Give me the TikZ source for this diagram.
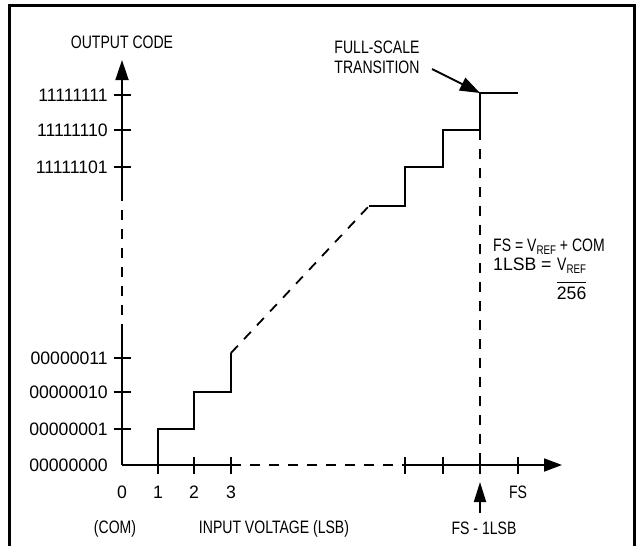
\documentclass[tikz,border=0pt]{standalone}
\usepackage{fontspec}
\setmainfont[FakeStretch=0.78]{Liberation Sans}
\newfontfamily\digfont[FakeStretch=0.98]{Liberation Sans}
\usetikzlibrary{arrows.meta}
\newcommand{\mysub}[1]{\raisebox{-3pt}{\fontsize{12.5}{13}\selectfont #1}}
\begin{document}
\begin{tikzpicture}[x=1pt,y=-1pt,
  lbl/.style={inner sep=0pt,text height=12.9pt,text depth=0pt,font=\fontsize{18}{20}\selectfont},
  dig/.style={inner sep=0pt,text height=12.9pt,text depth=0pt,font=\fontsize{18}{20}\digfont},
  ln/.style={line width=1.8pt},
  dsh/.style={line width=1.8pt,dash pattern=on 10pt off 9pt},
  tk/.style={line width=1.8pt},
  tipA/.style={-{Triangle[length=20pt,width=13pt]}}]
\useasboundingbox (0,0) rectangle (637,546);
\fill[white] (0,0) rectangle (637,546);
\draw[line width=3pt] (9,560) -- (9,5) -- (634,5) -- (634,560);

% axis points
\coordinate (O) at (122,465);
\coordinate (Ytop) at (122,60);
\coordinate (Ya) at (122,196);
\coordinate (Yb) at (122,334);
\coordinate (Xa) at (231,465);
\coordinate (Xb) at (405,465);
\coordinate (Xend) at (562,465);

% axes
\draw[ln] (O) -- (Yb);
\draw[dsh] (Yb) -- (Ya);
\draw[ln,tipA] (Ya) -- (Ytop);
\draw[ln] (O) -- (Xa);
\draw[dsh] (Xa) -- (Xb);
\draw[ln,-{Triangle[length=18pt,width=13pt]}] (Xb) -- (Xend);

% y ticks and labels
\foreach \yy/\code/\nm in {95/11111111/c255,130/11111110/c254,167/11111101/c253,358/00000011/c3,392/00000010/c2,429/00000001/c1}{
  \draw[tk] (113.5,\yy) -- (130.5,\yy);
  \node[dig,anchor=east] (\nm) at (108,\yy) {\code};
}
\node[dig,anchor=east] (c0) at (108,465) {00000000};

% x ticks and labels
\foreach \xx in {158,194,231,405,443,480,518}{
  \draw[tk] (\xx,457) -- (\xx,474);
}
\node[dig] (l0) at (122,492) {0};
\node[dig] (l1) at (158,492) {1};
\node[dig] (l2) at (194,492) {2};
\node[dig] (l3) at (231,492) {3};
\node[lbl] (lfs) at (518,492) {FS};

% lower staircase
\coordinate (s1) at (158,465);
\coordinate (s2) at (158,429);
\coordinate (s3) at (194,429);
\coordinate (s4) at (194,392);
\coordinate (s5) at (231,392);
\coordinate (s6) at (231,353);
\draw[ln] (s1) -- (s2) -- (s3) -- (s4) -- (s5) -- (s6);

% upper staircase
\coordinate (u1) at (369,206);
\coordinate (u2) at (405,206);
\coordinate (u3) at (405,167);
\coordinate (u4) at (443,167);
\coordinate (u5) at (443,130);
\coordinate (u6) at (480,130);
\coordinate (u7) at (480,93);
\coordinate (u8) at (518,93);
\draw[ln] (u1) -- (u2) -- (u3) -- (u4) -- (u5) -- (u6) -- (u7) -- (u8);
\draw[dsh] (s6) -- (u1);
\coordinate (fsx) at (480,465);
\draw[dsh] (u6) -- (fsx);

% full-scale transition label
\node[lbl,align=center,font=\fontsize{18}{20}\selectfont] (fst) at (377,67) {FULL-SCALE\\TRANSITION};
\coordinate (fsa) at (432,69);
\draw[ln,-{Triangle[length=20pt,width=14pt]}] (fsa) -- (u7);

% FS - 1LSB arrow
\coordinate (ua) at (480,513);
\coordinate (ub) at (480,482);
\draw[ln,-{Triangle[length=20pt,width=12pt]}] (ua) -- (ub);
\node[lbl] (fsm) at (484,528) {FS - 1LSB};

% axis titles
\node[lbl] (oc) at (122,42) {OUTPUT CODE};
\node[lbl] (com) at (115,527) {(COM)};
\node[lbl] (iv) at (274,527) {INPUT VOLTAGE (LSB)};

% equations
\node[lbl,anchor=west] (eq1) at (493,245) {FS = V\mysub{REF} + COM};
\node[dig,anchor=west] (eq2) at (493,264) {1LSB =};
\node[lbl,anchor=west] (vref) at (557,264) {V\mysub{REF}};
\draw[line width=1.2pt] ([yshift=-11.5pt]vref.south west) -- ([yshift=-11.5pt]vref.south east);
\node[dig,anchor=north] (n256) at ([yshift=-16pt]vref.south) {256};
\end{tikzpicture}
\end{document}
